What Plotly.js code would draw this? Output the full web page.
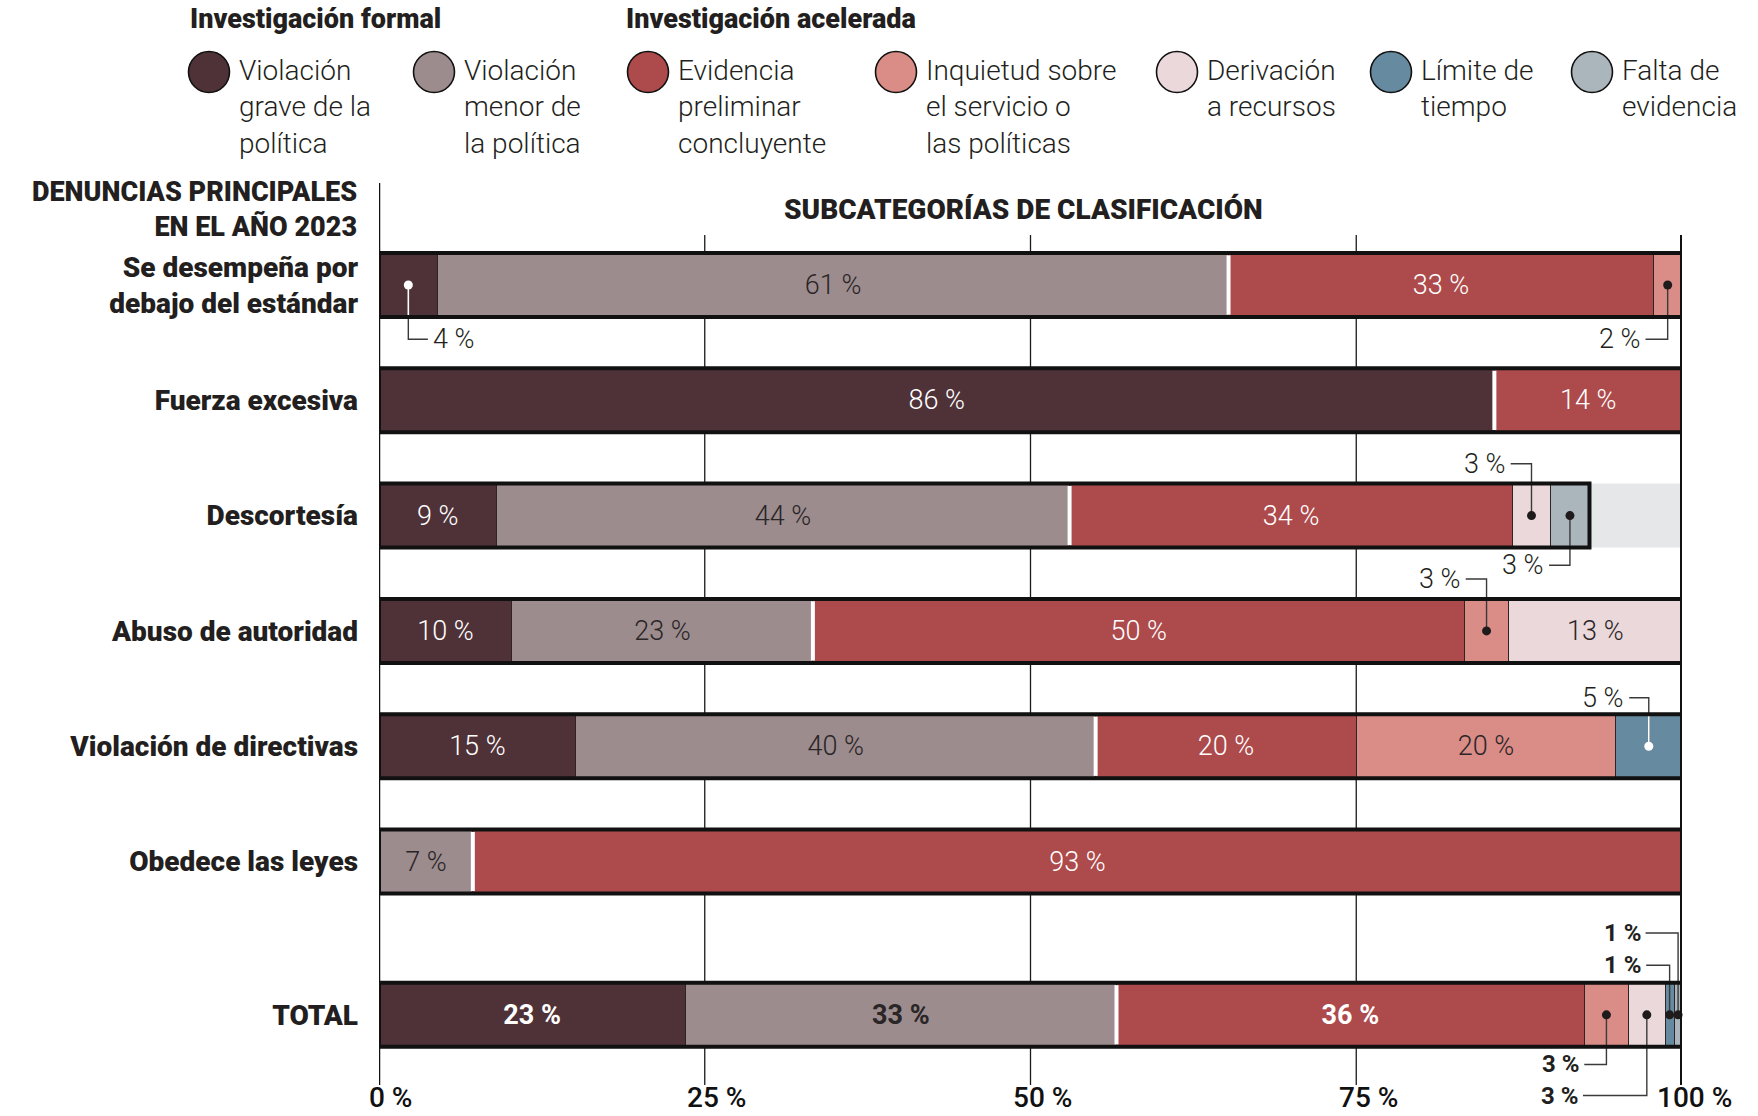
<!DOCTYPE html>
<html><head><meta charset="utf-8">
<script src="https://cdn.plot.ly/plotly-3.0.1.min.js"></script>
<style>html,body{margin:0;padding:0;background:#fff;} #chart{width:1758px;height:1116px;}</style>
</head><body><div id="chart"></div>
<script>
// ---------- DATA ----------
const categories = ["Se desempeña por<br>debajo del estándar","Fuerza excesiva","Descortesía","Abuso de autoridad","Violación de directivas","Obedece las leyes","TOTAL"];
const seriesNames = ["Violación<br>grave de la<br>política","Violación<br>menor de<br>la política","Evidencia<br>preliminar<br>concluyente","Inquietud sobre<br>el servicio o<br>las políticas","Derivación<br>a recursos","Límite de<br>tiempo","Falta de<br>evidencia"];
const groupTitles = ["Investigación formal","Investigación acelerada"];
const axisTitle = "SUBCATEGORÍAS DE CLASIFICACIÓN";
const rowTitle = "DENUNCIAS PRINCIPALES<br>EN EL AÑO 2023";
const tickVals = [0,25,50,75,100];
const tickText = ["0 %","25 %","50 %","75 %","100 %"];

const grave      = [4.5, 85.6, 9.0, 10.2, 15.1, null, 23.5];
const menor      = [60.7, null, 44.0, 23.1, 39.9, 7.2, 33.1];
const evidencia  = [32.6, 14.4, 34.0, 50.0, 20.0, 92.8, 35.9];
const inquietud  = [2.2, null, null, 3.4, 19.9, null, 3.4];
const derivacion = [null, null, 2.9, 13.3, null, null, 2.8];
const limite     = [null, null, null, null, 5.1, null, 0.7];
const falta      = [null, null, 3.0, null, null, null, 0.6];

const graveLbl = ["4 %","86 %","9 %","10 %","15 %","","23 %"];
const menorLbl = ["61 %","","44 %","23 %","40 %","7 %","33 %"];
const evidLbl  = ["33 %","14 %","34 %","50 %","20 %","93 %","36 %"];
const inqLbl   = ["2 %","","","3 %","20 %","","3 %"];
const derLbl   = ["","","3 %","13 %","","","3 %"];
const limLbl   = ["","","","","5 %","","1 %"];
const faltaLbl = ["","","3 %","","","","1 %"];

// ---------- STYLE ----------
const colors = ["#4f3238","#9c8c8e","#ad4a4b","#da8c86","#ead8da","#668aa0","#aab6bc"];
const textColors = ["#ffffff","#2a2526","#ffffff","#2a2526","#2a2526","#ffffff","#2a2526"];
const series = [grave, menor, evidencia, inquietud, derivacion, limite, falta];
const labels = [graveLbl, menorLbl, evidLbl, inqLbl, derLbl, limLbl, faltaLbl];
const nFormal = 2;
const totalRow = 6;
// callouts: series index, row index, vertical offset (rows), horizontal leg (% units)
const callouts = [
  {s:0, r:0, dy: 0.47, dx: 1.5, dot:"#ffffff"},
  {s:3, r:0, dy: 0.47, dx:-1.7},
  {s:4, r:2, dy:-0.45, dx:-1.6},
  {s:6, r:2, dy: 0.43, dx:-1.6},
  {s:3, r:3, dy:-0.45, dx:-1.6},
  {s:5, r:4, dy:-0.42, dx:-1.5, dot:"#ffffff"},
  {s:3, r:6, dy: 0.43, dx:-1.7},
  {s:4, r:6, dy: 0.70, dx:-4.9},
  {s:5, r:6, dy:-0.43, dx:-1.8},
  {s:6, r:6, dy:-0.71, dx:-2.5}
];

const FONT = "Roboto, 'Open Sans', sans-serif";
const LIGHT = 300, HEAVY = 900;
const INK = '#231f20';

const W=1758, H=1116;
const M = {l:379, r:1758-1682, t:235, b:4};
const plotW = W-M.l-M.r, plotH = H-M.t-M.b;
const px2x = px => (px-M.l)/plotW;
const py2y = py => (H-M.b-py)/plotH;
const gridBottom = py2y(1085);

const rowY = categories.map((c,i)=> i===totalRow ? 6.33 : i);
const barW = 0.555;
const half = barW/2;

const rowSum = rowY.map((_,i)=> series.reduce((a,s)=>a+(s[i]||0),0));
const formalSum = rowY.map((_,i)=> series.slice(0,nFormal).reduce((a,s)=>a+(s[i]||0),0));
const startOf = (s,r)=> series.slice(0,s).reduce((a,ser)=>a+(ser[r]||0),0);
const isCallout = (s,r)=> callouts.some(c=>c.s===s && c.r===r);

const traces = [];
series.forEach((vals,si)=>{
  const txt = vals.map((v,r)=>{
    if(v==null || isCallout(si,r) || !labels[si][r]) return "";
    return r===totalRow ? "<b>"+labels[si][r]+"</b>" : labels[si][r];
  });
  traces.push({
    type:'bar', orientation:'h', name: seriesNames[si].replace(/<br>/g,' '),
    y: rowY, x: vals, width: barW,
    marker:{color:colors[si], line:{color:'#2e2325', width:1}},
    text: txt, textposition:'inside', insidetextanchor:'middle', constraintext:'none',
    textfont:{family:FONT, size:27, color:textColors[si], weight:LIGHT},
    hoverinfo:'skip', showlegend:false, cliponaxis:false
  });
});

const annotations = [];
const shapes = [];

// gridlines (stop at the axis baseline)
tickVals.forEach(t=>{
  if(t===0 || t===100) return;
  shapes.push({type:'line', xref:'x', yref:'paper', x0:t, x1:t, y0:gridBottom, y1:1,
    line:{color:'#1a1a1a', width:1.3}, layer:'below'});
});

// callout lines, dots
callouts.forEach(c=>{
  const v = series[c.s][c.r];
  const cx = startOf(c.s,c.r) + v/2;
  const y0 = rowY[c.r], y1 = y0 + c.dy;
  traces.push({type:'scatter', mode:'lines', x:[cx,cx,cx+c.dx], y:[y0,y1,y1],
    line:{color:'#3a3a3a', width:1.4}, hoverinfo:'skip', showlegend:false, cliponaxis:false});
  if(c.dot){
    const edge = y0 + Math.sign(c.dy)*half;
    traces.push({type:'scatter', mode:'lines', x:[cx,cx], y:[y0,edge],
      line:{color:c.dot, width:1.6}, hoverinfo:'skip', showlegend:false, cliponaxis:false});
  }
  traces.push({type:'scatter', mode:'markers', x:[cx], y:[y0],
    marker:{color:c.dot||'#1f1a1b', size:9}, hoverinfo:'skip', showlegend:false, cliponaxis:false});
  const bold = c.r===totalRow;
  annotations.push({x:cx+c.dx, y:y1, xref:'x', yref:'y', showarrow:false,
    text: bold ? "<b>"+labels[c.s][c.r]+"</b>" : labels[c.s][c.r],
    xanchor: c.dx<0 ? 'right':'left', xshift: c.dx<0 ? -3 : 3, yanchor:'middle',
    font:{family:FONT, size: bold?24:27, color:INK, weight: bold?HEAVY:LIGHT}});
});

// remainder background, outlines, group separators
rowY.forEach((y,r)=>{
  if(rowSum[r] < 99.5){
    shapes.push({type:'rect', xref:'x', yref:'y', x0:rowSum[r], x1:100, y0:y-half, y1:y+half,
      fillcolor:'#e6e7e9', line:{width:0}, layer:'below'});
  }
  if(formalSum[r]>0 && formalSum[r]<rowSum[r]-0.01){
    shapes.push({type:'line', xref:'x', yref:'y', x0:formalSum[r], x1:formalSum[r], y0:y-half+0.02, y1:y+half-0.02,
      line:{color:'#ffffff', width:4}, layer:'above'});
  }
  shapes.push({type:'rect', xref:'x', yref:'y', x0:0, x1:rowSum[r], y0:y-half, y1:y+half,
    line:{color:'#111111', width:4}, fillcolor:'rgba(0,0,0,0)', layer:'above'});
});
// axis lines
shapes.push({type:'line', xref:'x', yref:'paper', x0:0, x1:0, y0:gridBottom, y1:py2y(183), line:{color:'#111', width:2.5}, layer:'above'});
shapes.push({type:'line', xref:'x', yref:'paper', x0:100, x1:100, y0:gridBottom, y1:1, line:{color:'#111', width:4}, layer:'above'});

// x tick labels (number centred on the tick)
tickVals.forEach((t,i)=>{
  annotations.push({x:t, xref:'x', yref:'paper', y:py2y(1097), xanchor:'center', yanchor:'middle', xshift:12,
    showarrow:false, text:tickText[i], font:{family:FONT, size:28, color:'#111', weight:500}});
});

// legend
const legX = [209, 434, 648, 896, 1177, 1391, 1592];
const legY = 72;
seriesNames.forEach((n,i)=>{
  const cx = legX[i];
  shapes.push({type:'circle', xref:'paper', yref:'paper',
    x0:px2x(cx-20.5), x1:px2x(cx+20.5), y0:py2y(legY+20.5), y1:py2y(legY-20.5),
    fillcolor:colors[i], line:{color:'#111', width:1.6}, layer:'above'});
  annotations.push({xref:'paper', yref:'paper', x:px2x(cx+28), y:py2y(legY-20), xanchor:'left', yanchor:'top',
    align:'left', showarrow:false, text:n,
    font:{family:FONT, size:28, color:INK, weight:LIGHT}});
});
annotations.push({xref:'paper', yref:'paper', x:px2x(188), y:py2y(19), xanchor:'left', yanchor:'middle', showarrow:false,
  text:groupTitles[0], font:{family:FONT, size:27, color:INK, weight:HEAVY}});
annotations.push({xref:'paper', yref:'paper', x:px2x(624), y:py2y(19), xanchor:'left', yanchor:'middle', showarrow:false,
  text:groupTitles[1], font:{family:FONT, size:27, color:INK, weight:HEAVY}});
annotations.push({xref:'paper', yref:'paper', x:px2x(359), y:py2y(209), xanchor:'right', yanchor:'middle', align:'right', showarrow:false,
  text:rowTitle, font:{family:FONT, size:27, color:INK, weight:HEAVY}});
annotations.push({xref:'paper', yref:'paper', x:px2x(1023), y:py2y(209), xanchor:'center', yanchor:'middle', showarrow:false,
  text:axisTitle, font:{family:FONT, size:28, color:INK, weight:HEAVY}});

const layout = {
  width:W, height:H, margin:M, paper_bgcolor:'#fff', plot_bgcolor:'rgba(0,0,0,0)',
  barmode:'stack', hovermode:false, showlegend:false,
  font:{family:FONT, color:INK},
  xaxis:{range:[0,100], showgrid:false, zeroline:false, showline:false, showticklabels:false, ticks:'', fixedrange:true},
  yaxis:{range:[(H-M.b-285)/115.3, (M.t-285)/115.3], tickvals:rowY, ticktext:categories, showgrid:false, zeroline:false, showline:false,
    ticks:'', ticklabelstandoff:20, fixedrange:true,
    tickfont:{family:FONT, size:28, color:INK, weight:HEAVY}},
  shapes, annotations
};
Plotly.newPlot('chart', traces, layout, {displayModeBar:false, staticPlot:true});
</script>
</body></html>
